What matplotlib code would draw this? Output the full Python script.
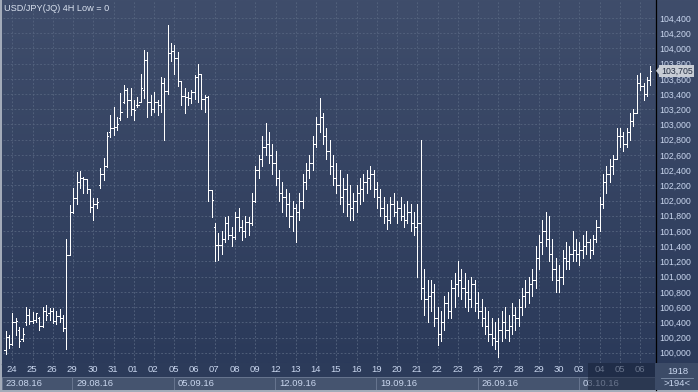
import numpy as np
import matplotlib
matplotlib.use('Agg')
import matplotlib.pyplot as plt

from matplotlib.colors import LinearSegmentedColormap
from matplotlib.lines import Line2D
from matplotlib.patches import Polygon, Rectangle
from matplotlib.ticker import FuncFormatter
from matplotlib.transforms import blended_transform_factory

plt.rcParams['font.family'] = ['Liberation Sans', 'DejaVu Sans']

title = 'USD/JPY(JQ) 4H Low = 0'

# one entry per trading day, 4H bars
day_labels = ['23', '24', '25', '26', '29', '30', '31', '01', '02', '05', '06', '07', '08', '09',
              '12', '13', '14', '15', '16', '19', '20', '21', '22', '23', '26', '27', '28', '29',
              '30', '03', '04', '05', '06']
bars_per_day = [2] + [6] * 31 + [4]

week_labels = ['23.08.16', '29.08.16', '05.09.16', '12.09.16', '19.09.16', '26.09.16', '03.10.16']
week_first_day = [0, 4, 9, 14, 19, 24, 29]

opens = [
    100.04, 100.21,
    100.12, 100.40, 100.30, 100.18, 100.40, 100.50,
    100.42, 100.43, 100.45, 100.35, 100.55, 100.52,
    100.55, 100.42, 100.48, 100.45, 100.32, 101.28,
    101.85, 102.03, 102.25, 102.30, 102.28, 102.15,
    101.92, 101.95, 102.20, 102.35, 102.45, 102.90,
    102.95, 102.97, 103.08, 103.30, 103.45, 103.32,
    103.21, 103.25, 103.30, 103.45, 103.85, 103.30,
    103.20, 103.30, 103.25, 103.55, 103.44, 103.94,
    103.96, 103.88, 103.57, 103.37, 103.36, 103.35,
    103.43, 103.62, 103.67, 103.34, 103.36, 102.14,
    101.65, 101.42, 101.42, 101.50, 101.70, 101.55,
    101.52, 101.78, 101.65, 101.60, 101.72, 101.70,
    102.00, 102.40, 102.55, 102.70, 102.75, 102.60,
    102.50, 102.30, 102.10, 102.05, 101.95, 101.80,
    101.90, 101.85, 102.00, 102.25, 102.40, 102.50,
    102.75, 103.00, 103.10, 102.85, 102.65, 102.45,
    102.30, 102.20, 102.05, 102.15, 101.95, 101.90,
    102.00, 102.10, 102.15, 102.25, 102.30, 102.35,
    102.15, 102.05, 101.90, 101.80, 101.75, 101.95,
    101.85, 101.90, 101.80, 101.75, 101.85, 101.70,
    101.65, 101.70, 100.85, 100.70, 100.75, 100.80,
    100.45, 100.25, 100.40, 100.65, 100.55, 100.85,
    100.90, 100.95, 100.85, 100.80, 100.70, 100.90,
    100.65, 100.55, 100.45, 100.35, 100.25, 100.20,
    100.15, 100.30, 100.40, 100.30, 100.35, 100.50,
    100.45, 100.60, 100.75, 100.80, 100.90, 100.95,
    101.25, 101.45, 101.60, 101.50, 101.30, 101.10,
    100.95, 101.00, 101.25, 101.20, 101.30, 101.35,
    101.30, 101.35, 101.40, 101.45, 101.35, 101.50,
    101.65, 101.95, 102.25, 102.35, 102.45, 102.55,
    102.85, 102.85, 102.75, 102.90, 103.05, 103.15,
    103.55, 103.50, 103.40, 103.58,
]
highs = [
    100.29, 100.23,
    100.52, 100.45, 100.34, 100.32, 100.60, 100.57,
    100.54, 100.52, 100.47, 100.60, 100.63, 100.59,
    100.59, 100.55, 100.57, 100.50, 101.49, 101.94,
    102.16, 102.38, 102.39, 102.31, 102.27, 102.14,
    102.03, 102.03, 102.43, 102.56, 102.90, 103.12,
    103.23, 103.10, 103.41, 103.52, 103.48, 103.48,
    103.32, 103.36, 103.67, 103.98, 103.95, 103.39,
    103.43, 103.32, 103.63, 103.61, 104.31, 104.07,
    104.05, 103.95, 103.57, 103.48, 103.43, 103.45,
    103.65, 103.80, 103.67, 103.39, 103.37, 102.14,
    101.70, 101.57, 101.60, 101.78, 101.80, 101.65,
    101.85, 101.90, 101.75, 101.80, 101.78, 102.10,
    102.45, 102.60, 102.85, 103.02, 102.90, 102.75,
    102.65, 102.40, 102.25, 102.15, 102.10, 102.00,
    101.95, 102.10, 102.35, 102.50, 102.60, 102.85,
    103.10, 103.35, 103.15, 102.95, 102.80, 102.60,
    102.50, 102.40, 102.30, 102.35, 102.20, 102.10,
    102.20, 102.30, 102.35, 102.40, 102.45, 102.40,
    102.25, 102.15, 102.05, 101.95, 102.05, 102.10,
    102.00, 102.05, 101.95, 102.00, 101.95, 101.85,
    101.95, 102.80, 101.10, 100.95, 100.95, 100.90,
    100.60, 100.55, 100.75, 100.80, 100.95, 101.05,
    101.20, 101.10, 101.05, 100.95, 101.00, 100.95,
    100.80, 100.70, 100.60, 100.55, 100.45, 100.40,
    100.45, 100.55, 100.60, 100.50, 100.65, 100.60,
    100.70, 100.85, 100.95, 101.00, 101.10, 101.40,
    101.55, 101.75, 101.85, 101.80, 101.50, 101.25,
    101.15, 101.35, 101.45, 101.40, 101.60, 101.50,
    101.45, 101.55, 101.60, 101.50, 101.55, 101.75,
    102.05, 102.35, 102.45, 102.55, 102.60, 102.95,
    102.95, 102.90, 102.95, 103.15, 103.20, 103.65,
    103.68, 103.55, 103.62, 103.77,
]
lows = [
    99.98, 100.06,
    100.10, 100.23, 100.08, 100.16, 100.36, 100.38,
    100.39, 100.41, 100.30, 100.34, 100.43, 100.43,
    100.39, 100.38, 100.40, 100.28, 100.05, 101.28,
    101.83, 101.96, 102.16, 102.10, 102.10, 101.85,
    101.74, 101.90, 102.16, 102.27, 102.44, 102.83,
    102.86, 102.93, 103.06, 103.28, 103.10, 103.12,
    103.06, 103.23, 103.30, 103.35, 103.10, 103.12,
    103.17, 103.12, 103.17, 102.80, 103.40, 103.83,
    103.67, 103.50, 103.26, 103.15, 103.26, 103.28,
    103.34, 103.30, 103.21, 103.17, 102.00, 101.79,
    101.20, 101.22, 101.30, 101.45, 101.50, 101.40,
    101.50, 101.60, 101.48, 101.52, 101.55, 101.68,
    101.98, 102.30, 102.45, 102.60, 102.50, 102.35,
    102.20, 102.00, 101.85, 101.80, 101.65, 101.60,
    101.45, 101.75, 101.90, 102.15, 102.30, 102.40,
    102.70, 102.90, 102.75, 102.55, 102.35, 102.20,
    102.10, 101.95, 101.85, 101.80, 101.75, 101.75,
    101.85, 101.95, 102.00, 102.10, 102.15, 102.05,
    101.90, 101.80, 101.70, 101.62, 101.70, 101.80,
    101.70, 101.75, 101.65, 101.70, 101.60, 101.55,
    101.00, 100.70, 100.50, 100.40, 100.55, 100.35,
    100.10, 100.15, 100.30, 100.45, 100.45, 100.60,
    100.75, 100.70, 100.60, 100.55, 100.60, 100.55,
    100.45, 100.35, 100.25, 100.15, 100.10, 100.05,
    99.95, 100.15, 100.20, 100.15, 100.25, 100.30,
    100.35, 100.50, 100.60, 100.65, 100.75, 100.85,
    101.10, 101.30, 101.40, 101.20, 100.95, 100.80,
    100.80, 100.90, 101.10, 101.10, 101.20, 101.20,
    101.15, 101.25, 101.30, 101.25, 101.30, 101.45,
    101.60, 101.90, 102.10, 102.25, 102.35, 102.55,
    102.70, 102.65, 102.70, 102.80, 102.98, 103.15,
    103.45, 103.32, 103.38, 103.52,
]
closes = [
    100.21, 100.12,
    100.40, 100.42, 100.16, 100.25, 100.50, 100.42,
    100.43, 100.52, 100.35, 100.55, 100.50, 100.55,
    100.42, 100.48, 100.45, 100.32, 101.28, 101.85,
    102.03, 102.25, 102.30, 102.28, 102.15, 101.92,
    101.95, 101.98, 102.35, 102.45, 102.85, 102.95,
    102.97, 103.00, 103.17, 103.45, 103.32, 103.21,
    103.19, 103.26, 103.48, 103.85, 103.30, 103.20,
    103.30, 103.25, 103.55, 103.44, 103.94, 103.96,
    103.88, 103.57, 103.37, 103.36, 103.35, 103.43,
    103.62, 103.67, 103.34, 103.36, 102.14, 102.01,
    101.42, 101.42, 101.50, 101.70, 101.55, 101.52,
    101.78, 101.65, 101.60, 101.72, 101.70, 102.00,
    102.40, 102.55, 102.70, 102.75, 102.60, 102.50,
    102.30, 102.10, 102.05, 101.95, 101.80, 101.90,
    101.85, 102.00, 102.25, 102.40, 102.50, 102.75,
    103.00, 103.10, 102.85, 102.65, 102.45, 102.30,
    102.20, 102.05, 102.15, 101.95, 101.90, 102.00,
    102.10, 102.15, 102.25, 102.30, 102.35, 102.15,
    102.05, 101.90, 101.80, 101.75, 101.95, 101.85,
    101.90, 101.80, 101.75, 101.85, 101.70, 101.65,
    101.70, 100.85, 100.70, 100.75, 100.80, 100.45,
    100.25, 100.40, 100.65, 100.55, 100.85, 100.90,
    100.95, 100.85, 100.80, 100.70, 100.90, 100.65,
    100.55, 100.45, 100.35, 100.25, 100.20, 100.15,
    100.30, 100.40, 100.30, 100.35, 100.50, 100.45,
    100.60, 100.75, 100.80, 100.90, 100.95, 101.25,
    101.45, 101.60, 101.50, 101.30, 101.10, 100.95,
    101.00, 101.25, 101.20, 101.30, 101.35, 101.30,
    101.35, 101.40, 101.45, 101.35, 101.50, 101.65,
    101.95, 102.25, 102.35, 102.45, 102.55, 102.85,
    102.85, 102.75, 102.90, 103.05, 103.15, 103.55,
    103.50, 103.40, 103.58, 103.705,
]

bottom_counts = ['1918', '>194<']

W, H = 698, 392
BG_TOP, BG_BOTTOM = '#3f4d6b', '#2b3a5a'
TEXT = '#c9d6ee'


def rect(left, top, right, bottom):
    return [left / W, 1 - bottom / H, (right - left) / W, (bottom - top) / H]


def price_fmt(v, pos=None):
    return f'{v:.3f}'.replace('.', ',')


fig = plt.figure(figsize=(W / 100, H / 100), dpi=100, facecolor='#a3abb9')

# gradient background behind chart and price scale
bg = fig.add_axes(rect(2, 0, 698, 363), zorder=0)
cmap = LinearSegmentedColormap.from_list('bg', [BG_TOP, BG_BOTTOM])
bg.imshow(np.linspace(0, 1, 256).reshape(-1, 1), cmap=cmap, aspect='auto', extent=[0, 1, 0, 1])
bg.axis('off')

x = np.arange(len(closes))
day_first = np.concatenate([[0], np.cumsum(bars_per_day)[:-1]])

ax = fig.add_axes(rect(3, 1, 655, 363), zorder=3)
ax.patch.set_visible(False)
ax.set_xlim(-0.8, 192.4)
ax.set_ylim(99.865, 104.623)

bar_style = dict(color='white', lw=0.7, antialiased=False, zorder=3)
ax.vlines(x, lows, highs, **bar_style)
ax.hlines(opens, x - 0.36, x, **bar_style)
ax.hlines(closes, x, x + 0.36, **bar_style)

ax.set_yticks(np.arange(100.0, 104.41, 0.2))
ax.yaxis.set_major_formatter(FuncFormatter(price_fmt))
ax.yaxis.tick_right()
ax.tick_params(axis='y', length=0, pad=3, labelsize=6.3, labelcolor=TEXT)
ax.set_xticks(day_first[1:])
ax.tick_params(axis='x', length=0, labelbottom=False)
ax.grid(True, color='#55647f', lw=0.6, ls=(0, (2.2, 2.2)))
for side in ['left', 'top', 'right', 'bottom']:
    ax.spines[side].set_visible(False)

# last price marker on the scale
tr = blended_transform_factory(ax.transAxes, ax.transData)
ax.text(1.0 + 6 / 652, closes[-1], price_fmt(closes[-1]), transform=tr, va='center', ha='left',
        fontsize=6.3, color='#222c40', clip_on=False, zorder=10,
        bbox=dict(boxstyle='square,pad=0.18', fc='#c8cdd5', ec='none'))
ax.add_patch(Polygon([(1.0 + 1 / 652, closes[-1]), (1.0 + 5 / 652, closes[-1] + 0.065),
                      (1.0 + 5 / 652, closes[-1] - 0.065)], closed=True, transform=tr,
                     fc='#c8cdd5', ec='none', clip_on=False, zorder=10))

fig.text(4 / W, 1 - 8.5 / H, title, fontsize=6.6, color='#d8e0ee', va='center', ha='left')

# time scale
axb = fig.add_axes(rect(2, 363, 655, 390), zorder=2)
axb.set_xlim(ax.get_xlim())
axb.set_ylim(0, 27)
axb.set_facecolor('#2c3b5a')
axb.set_xticks([])
axb.set_yticks([])
for side in axb.spines:
    axb.spines[side].set_visible(False)

for k in range(1, len(day_labels)):
    axb.text(day_first[k], 20, day_labels[k], ha='center', va='center', fontsize=6.8, color=TEXT)

week_starts = [ax.get_xlim()[0]] + [day_first[d] for d in week_first_day[1:]]
week_ends = week_starts[1:] + [ax.get_xlim()[1]]
for s, e, lab in zip(week_starts, week_ends, week_labels):
    axb.add_patch(Rectangle((s, 0.5), e - s, 13, fc='#45546f', ec='#67758f', lw=0.7))
    axb.text(s + 1.1, 7, lab, ha='left', va='center', fontsize=6.8, color=TEXT)

axb.add_patch(Rectangle((172.5, 0), ax.get_xlim()[1] - 172.5, 27, fc='#17223a', alpha=0.55,
                        ec='none', zorder=5))

# corner panel
axc = fig.add_axes(rect(655, 363, 698, 390), zorder=2)
axc.set_facecolor('#3c4b67')
axc.set_xlim(0, 1)
axc.set_ylim(0, 27)
axc.set_xticks([])
axc.set_yticks([])
for side in axc.spines:
    axc.spines[side].set_visible(False)
axc.text(0.52, 18.5, bottom_counts[0], ha='center', va='center', fontsize=6.8, color=TEXT)
axc.text(0.52, 6.5, bottom_counts[1], ha='center', va='center', fontsize=6.8, color=TEXT)
axc.plot([0.15, 0.88], [12.5, 12.5], color='#8090a8', lw=0.6)

# separators
fig.add_artist(Line2D([655.5 / W, 655.5 / W], [1 - 390 / H, 1], color='black', lw=0.9))
fig.add_artist(Line2D([2 / W, 1], [1 - 363.5 / H, 1 - 363.5 / H], color='black', lw=0.9))

fig.savefig('out.png', dpi=100, facecolor=fig.get_facecolor())
